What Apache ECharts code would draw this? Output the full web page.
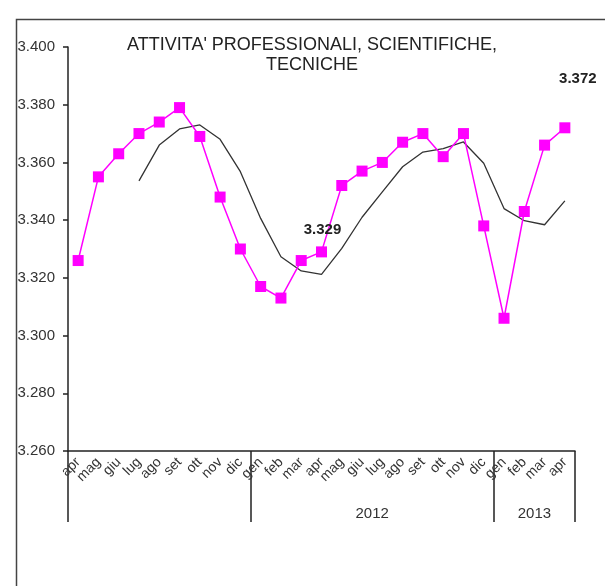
<!DOCTYPE html>
<html>
<head>
<meta charset="utf-8">
<script src="https://cdn.jsdelivr.net/npm/echarts@6/dist/echarts.min.js"></script>
<style>
  html, body { margin: 0; padding: 0; background: #fff; }
  #chart { width: 605px; height: 586px; }
</style>
</head>
<body>
<div id="chart"></div>
<script>
// mesi da apr 2011 ad apr 2013
var months = ['apr','mag','giu','lug','ago','set','ott','nov','dic',
  'gen','feb','mar','apr','mag','giu','lug','ago','set','ott','nov','dic',
  'gen','feb','mar','apr'];
// etichette anno per ogni blocco (il primo blocco non ha etichetta)
var yearNames = ['', '2012', '2013'];

// valori mensili (migliaia)
var monthly = [3326, 3355, 3363, 3370, 3374, 3379, 3369, 3348, 3330,
  3317, 3313, 3326, 3329, 3352, 3357, 3360, 3367, 3370, 3362, 3370, 3338,
  3306, 3343, 3366, 3372];
// media mobile
var trend = [null, null, null, 3353.6, 3366, 3371.6, 3373, 3368, 3356.8,
  3340.6, 3327.3, 3322.4, 3321.2, 3330.2, 3341, 3349.8, 3358.5, 3363.6, 3364.8, 3367.1, 3359.7,
  3344, 3339.8, 3338.4, 3346.7];
// punti con etichetta
var labelled = [12, 24];

var yTicks = { min: 3260, max: 3400, step: 20 };

function fmt(v) {
  v = Math.round(v);
  return Math.floor(v / 1000) + '.' + String(v % 1000).padStart(3, '0');
}

// inizio di ogni anno (indice del mese 'gen') -> centri dei blocchi
var starts = [0];
months.forEach(function (m, i) { if (m === 'gen') starts.push(i); });
var ends = starts.slice(1).concat([months.length]);
var yearCenters = starts.map(function (s, i) { return (s + ends[i]) / 2; });

var chart = echarts.init(document.getElementById('chart'));
var font = 'Liberation Sans, Arial, sans-serif';

chart.setOption({
  animation: false,
  title: {
    text: "ATTIVITA' PROFESSIONALI, SCIENTIFICHE,\nTECNICHE",
    left: 307,
    top: 30,
    textAlign: 'center',
    textStyle: { fontFamily: font, fontSize: 18, fontWeight: 'normal', color: '#222', lineHeight: 20 }
  },
  graphic: [{
    type: 'rect',
    shape: { x: 16.5, y: 19.5, width: 700, height: 700 },
    style: { fill: 'none', stroke: '#444', lineWidth: 1.5 },
    silent: true
  }],
  grid: { left: 68, right: 30, top: 47, bottom: 135 },
  xAxis: [{
    type: 'category',
    data: months,
    boundaryGap: true,
    axisLine: { lineStyle: { color: '#222', width: 1.5 } },
    axisTick: {
      show: true,
      length: 71,
      interval: function (i) { return starts.indexOf(i) >= 0; },
      lineStyle: { color: '#222', width: 1.5 }
    },
    axisLabel: {
      interval: 0,
      rotate: 45,
      margin: 9,
      fontFamily: font,
      fontSize: 14,
      color: '#333'
    },
    splitLine: { show: false }
  }, {
    type: 'value',
    position: 'bottom',
    offset: 48,
    min: 0,
    max: months.length,
    axisLine: { show: false },
    axisTick: { show: false },
    splitLine: { show: false },
    axisLabel: {
      customValues: yearCenters,
      formatter: function (v) { return yearNames[yearCenters.indexOf(v)] || ''; },
      fontFamily: font,
      fontSize: 15,
      color: '#333',
      margin: 7
    }
  }],
  yAxis: {
    type: 'value',
    min: yTicks.min,
    max: yTicks.max,
    interval: yTicks.step,
    axisLine: { show: true, lineStyle: { color: '#222', width: 1.5 } },
    axisTick: { show: true, length: 5, lineStyle: { color: '#222', width: 1.5 } },
    axisLabel: {
      formatter: fmt,
      fontFamily: font,
      fontSize: 15,
      color: '#333',
      margin: 13
    },
    splitLine: { show: false }
  },
  series: [{
    name: 'media',
    type: 'line',
    data: trend,
    showSymbol: false,
    symbol: 'none',
    lineStyle: { color: '#333', width: 1.3 },
    z: 2
  }, {
    name: 'mensile',
    type: 'line',
    data: monthly.map(function (v, i) {
      var p = { value: v };
      if (labelled.indexOf(i) >= 0) {
        p.label = {
          show: true,
          formatter: function (d) { return fmt(d.value); },
          position: 'top',
          distance: i === 24 ? 36 : 9,
          offset: i === 24 ? [13, 0] : [1, 0],
          fontFamily: font,
          fontSize: 15,
          fontWeight: 'bold',
          color: '#222'
        };
      }
      return p;
    }),
    symbol: 'rect',
    symbolSize: 11,
    itemStyle: { color: '#ff00ff' },
    lineStyle: { color: '#ff00ff', width: 1.5 },
    z: 3
  }]
});
</script>
</body>
</html>
